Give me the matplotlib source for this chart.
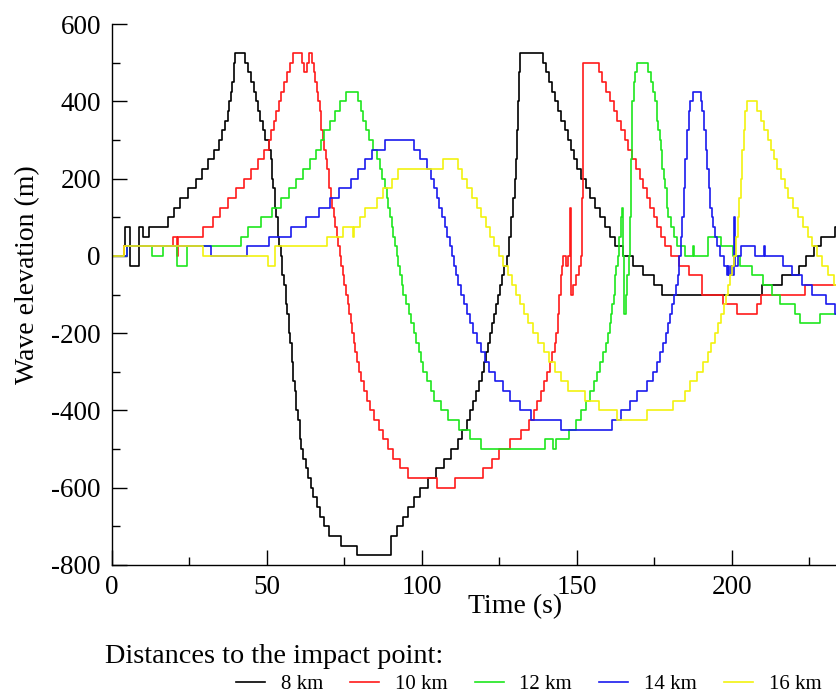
import matplotlib
matplotlib.use("Agg")
import matplotlib.pyplot as plt
from matplotlib.ticker import MultipleLocator

plt.rcParams['font.family'] = ['Liberation Serif', 'DejaVu Serif']
plt.rcParams['axes.unicode_minus'] = False

# ---------------- data (time in s, wave elevation in m; step series) ----------------
labels = ["8 km", "10 km", "12 km", "14 km", "16 km"]

t_8km = [0, 3.8, 4.2, 5.8, 8.7, 10, 12, 18, 20, 22, 24.5, 27, 29, 31, 33, 34.5, 35.5, 36.5, 37.3, 37.9,
         38.4, 38.8, 39.2, 39.5, 39.8, 43, 44, 45, 45.8, 46.5, 47.2, 47.9, 48.6, 49.3, 50.8, 51.2, 51.6,
         52, 52.5, 53, 53.5, 54, 54.5, 55, 55.5, 56, 56.5, 57, 57.5, 58, 58.5, 59, 59.5, 60, 60.5, 61,
         61.7, 62.5, 63.3, 64.2, 65, 66, 67.2, 68.5, 70, 74, 78.9, 90, 92, 94, 95.5, 97.5, 99.5, 102,
         104.5, 107, 109.5, 111.5, 113, 114.5, 115.5, 116.5, 117.5, 118.5, 119.3, 120, 120.7, 121.4, 122,
         122.7, 123.3, 124, 124.6, 125.2, 125.8, 126.6, 127.5, 128.2, 128.8, 129.4, 129.9, 130.3, 130.7,
         131, 131.3, 131.6, 139, 140, 141, 142, 143, 144, 145, 146, 147, 148, 149, 150, 151.3, 152.8,
         154.3, 155.8, 157.4, 159, 160.7, 162.3, 164.9, 168.2, 171.4, 174.8, 177.6, 209.8, 216, 221.5,
         224, 226.5, 228.7, 233.3, 235]
v_8km = [0, 25, 75, -25, 75, 50, 75, 100, 125, 150, 175, 200, 225, 250, 275, 300, 325, 350, 375, 400,
         425, 450, 475, 500, 525, 500, 475, 450, 425, 400, 375, 350, 325, 300, 275, 250, 200,
         175, 125, 100, 50, 25, 0, -50, -75, -125, -150, -200, -225, -275, -325, -350, -400, -425, -475, -500,
         -525, -550, -575, -600, -625, -650, -675, -700, -725, -750, -775, -725, -700, -675, -650, -625, -600, -575,
         -550, -525, -500, -475, -450, -425, -400, -375, -350, -325, -300, -275, -250, -225, -200,
         -175, -150, -125, -100, -75, -50, -25, 0, 50, 100, 150, 200, 250, 325,
         400, 475, 525, 500, 475, 450, 425, 400, 375, 350, 325, 300, 275, 250, 225, 200, 175,
         150, 125, 100, 75, 50, 25, 0, -25, -50, -75, -100, -75, -50, -25,
         0, 25, 50, 75, 75]

t_10km = [0, 4, 19.8, 20.9, 21.4, 29.5, 32.5, 35, 37.5, 40, 42.5, 45, 47, 49, 50.5, 51.3, 52.2, 53, 53.8,
          54.6, 55.4, 56.3, 57.3, 58.4, 61.3, 62, 63, 63.6, 64.6, 65.1, 65.6, 66.1, 66.6, 67.1, 67.5, 68,
          68.5, 69, 69.5, 70, 70.5, 71, 71.5, 72, 72.5, 73, 73.5, 74, 74.5, 75, 75.5, 76, 76.5, 77, 77.5,
          78, 78.5, 79.1, 79.7, 80.4, 81.2, 82.2, 83.3, 84.6, 86, 87.5, 89, 90.5, 93, 95.5, 104.7, 110.6,
          119.8, 122.5, 125, 128.5, 132, 134.5, 136, 137.2, 138.3, 139.3, 140.3, 141.2, 142, 142.8, 143.4,
          143.9, 144.3, 144.7, 145.1, 145.6, 146.6, 147.2, 147.6, 148.1, 148.7, 149.7, 150.7, 151.2, 151.5,
          151.8, 152, 157, 158.2, 159.4, 160.6, 161.8, 163, 164.2, 165.4, 166.6, 167.8, 169, 170.2, 171.4,
          172.6, 173.7, 174.8, 175.9, 177, 178.5, 180.5, 183, 186, 190.2, 197.2, 201.5, 208, 209.5, 223.5, 235]
v_10km = [0, 25, 50, 0, 50, 75, 100, 125, 150, 175, 200, 225, 250, 275, 300, 325, 350, 375, 400,
          425, 450, 475, 500, 525, 500, 475, 500, 525, 500, 475, 450, 425, 400, 375, 325, 300,
          275, 250, 225, 175, 150, 125, 100, 75, 50, 25, 0, -25, -50, -75, -100, -125, -150, -175, -200,
          -225, -250, -275, -300, -325, -350, -375, -400, -425, -450, -475, -500, -525, -550, -575, -600, -575,
          -550, -525, -500, -475, -450, -425, -400, -375, -350, -325, -300, -275, -250, -225, -200,
          -150, -100, -50, -25, 0, -25, 0, 125, -100, -75, -50, -25, 0, 150,
          350, 500, 475, 450, 425, 400, 375, 350, 325, 300, 275, 250, 225, 200, 175,
          150, 125, 100, 75, 50, 25, 0, -25, -50, -100, -125, -150, -125, -100, -75, -75]

t_12km = [0, 5, 12.8, 16.6, 20.9, 24.1, 41.5, 44, 48, 51.5, 54.5, 57, 59.3, 61.5, 63.8, 65.8, 67.4, 68.5,
          70.3, 72, 73.5, 75.4, 79.5, 80.3, 81.1, 82, 83, 84.2, 85.5, 86.4, 87.2, 88, 88.6, 89.2, 89.8,
          90.3, 90.8, 91.3, 91.8, 92.3, 92.8, 93.4, 94, 94.9, 95.8, 96.6, 97.4, 98.1, 98.9, 99.6, 100.4,
          101.5, 102.8, 104, 106, 108.5, 112, 115.5, 118.9, 139.6, 142.4, 143.4, 147.5, 149.6, 151.4, 152.8,
          154.2, 155.5, 156.6, 157.6, 158.5, 159.3, 160, 160.6, 161, 161.4, 161.8, 162.2, 162.6, 163.2,
          163.7, 164.2, 164.6, 164.9, 165.2, 165.8, 166.3, 166.7, 167.1, 167.4, 167.7, 168.3, 168.8, 169.3,
          173, 173.8, 174.5, 175.2, 175.7, 176.2, 176.7, 177.2, 177.6, 178, 178.5, 179, 179.5, 180.5, 181.3,
          182.2, 184.8, 187.6, 187.9, 192.3, 196.6, 200.4, 202.6, 206.4, 210.1, 212.8, 215.5, 220.3, 222,
          228.4, 235]
v_12km = [0, 25, 0, 25, -25, 25, 50, 75, 100, 125, 150, 175, 200, 225, 250, 275, 300, 325,
          350, 375, 400, 425, 400, 375, 350, 325, 300, 275, 250, 225, 200, 175, 150, 125, 100,
          75, 50, 25, 0, -25, -50, -75, -100, -125, -150, -175, -200, -225, -250, -275, -300,
          -325, -350, -375, -400, -425, -450, -475, -500, -475, -500, -475, -450, -425, -400, -375,
          -350, -325, -300, -275, -250, -225, -200, -175, -150, -125, -100, -50, -25, 0,
          50, 100, 125, 0, -150, -100, -50, 0, 100, 250, 400, 450, 475, 500,
          475, 450, 425, 400, 350, 325, 300, 275, 225, 200, 175, 125, 100, 75, 50,
          25, 0, 25, 0, 50, 25, 0, -25, -50, -75, -100, -125, -150, -175,
          -150, -150]

t_14km = [0, 5, 32, 43.4, 50.5, 57.7, 62.5, 66.8, 70.3, 73.2, 77, 79.3, 81.6, 83.8, 88, 97.4, 99.5, 101.5,
          102.8, 103.8, 104.7, 105.6, 106.5, 107.4, 108.2, 109, 109.8, 110.4, 110.9, 111.6, 112.6, 113.5,
          114.4, 115.4, 116.5, 117.8, 119, 120.3, 121.5, 123.5, 126, 128.5, 131.5, 135.2, 145, 161.2, 164.2,
          167.1, 169.5, 172.5, 174.6, 175.7, 176.8, 177.8, 178.6, 179.3, 180, 180.6, 181.2, 182, 182.5, 183,
          183.5, 184, 184.5, 185, 185.5, 186, 186.6, 187.4, 189.9, 190.5, 191, 191.5, 192, 192.5, 193,
          193.5, 194, 194.6, 195.3, 196.2, 197.5, 198.3, 198.8, 199.1, 199.6, 199.9, 200.7, 201.1, 202, 203,
          207.4, 210.4, 210.7, 216.5, 219.4, 222.5, 225.7, 230.5, 233.3, 235]
v_14km = [0, 25, 0, 25, 50, 75, 100, 125, 150, 175, 200, 225, 250, 275, 300, 275, 250, 225,
          200, 175, 150, 125, 100, 75, 50, 25, 0, -25, -50, -75, -100, -125,
          -150, -175, -200, -225, -250, -275, -300, -325, -350, -375, -400, -425, -450, -425, -400,
          -375, -350, -325, -300, -275, -250, -225, -200, -175, -150, -125, -100, -75, -50, 0,
          50, 100, 175, 250, 325, 375, 400, 425, 400, 375, 325, 275, 225, 175, 125,
          100, 75, 50, 25, 0, -25, -50, -25, -50, -25, -50, 100, -25, 0, 25,
          0, 25, 0, -25, -50, -75, -100, -125, -150, -150]

t_16km = [0, 4, 29.5, 50.4, 52.6, 69.5, 74.6, 77.7, 78, 80, 81.6, 85.4, 87.5, 90.2, 92.4, 106.9, 111.7,
          113, 114.4, 116, 117.6, 119.2, 120.6, 122, 123.3, 124.7, 126.1, 127.6, 129, 130.4, 131.6, 132.8,
          134.2, 135.8, 137.5, 139.3, 141, 142.8, 145, 147.2, 152.6, 157.2, 162.8, 172.5, 181.1, 184.8,
          186.6, 188.6, 190.6, 192.2, 193.4, 194.5, 195.5, 196.5, 197.3, 198.1, 198.8, 199.4, 200, 200.6,
          201.2, 201.8, 202.3, 202.8, 203.3, 203.8, 204.3, 205, 208, 209.3, 210.5, 211.5, 212.5, 213.5,
          214.7, 215.8, 217, 218.2, 219.8, 221.3, 222.8, 224.4, 225.9, 227.5, 229.2, 231, 233, 235]
v_16km = [0, 25, 0, -25, 25, 50, 75, 50, 75, 100, 125, 150, 175, 200, 225, 250, 225,
          200, 175, 150, 125, 100, 75, 50, 25, 0, -25, -50, -75, -100, -125, -150,
          -175, -200, -225, -250, -275, -300, -325, -350, -375, -400, -425, -400, -375, -350,
          -325, -300, -275, -250, -225, -200, -175, -150, -125, -100, -75, -50, -25, 0,
          50, 100, 150, 200, 275, 325, 375, 400, 375, 350, 325, 300, 275, 250,
          225, 200, 175, 150, 125, 100, 75, 50, 25, 0, -25, -50, -75, -75]

series_t = [t_8km, t_10km, t_12km, t_14km, t_16km]
series_v = [v_8km, v_10km, v_12km, v_14km, v_16km]
colors = ["#000000", "#ff1a1a", "#1ee61e", "#1a1aee", "#f2f20f"]

x_major = [0, 50, 100, 150, 200]
y_major = [-800, -600, -400, -200, 0, 200, 400, 600]

# ---------------- figure ----------------
W, H = 837, 698
fig = plt.figure(figsize=(W / 100, H / 100), dpi=100)
ax = fig.add_axes([112 / W, (H - 565) / H, 1 - 112 / W, (565 - 24) / H])

lines = []
for t, v, c in zip(series_t, series_v, colors):
    ln, = ax.plot(t, v, drawstyle="steps-post", color=c, lw=1.2)
    lines.append(ln)

ax.set_xlim(0, 233.9)
ax.set_ylim(-800, 600)
ax.set_xticks(x_major)
ax.set_yticks(y_major)
ax.xaxis.set_minor_locator(MultipleLocator(25))
ax.yaxis.set_minor_locator(MultipleLocator(100))
ax.spines["top"].set_visible(False)
ax.spines["right"].set_visible(False)
for s in ("left", "bottom"):
    ax.spines[s].set_linewidth(1.0)
ax.tick_params(which="major", direction="in", length=11, width=1.0, labelsize=19.5)
ax.tick_params(which="minor", direction="in", length=5.5, width=1.0)
ax.tick_params(axis="y", which="major", pad=8)
ax.tick_params(axis="x", which="major", pad=7)

ax.set_xlabel("Time (s)", fontsize=20)
ax.xaxis.set_label_coords(0.556, -0.054)
ax.set_ylabel("Wave elevation (m)", fontsize=20)
ax.yaxis.set_label_coords(-0.099, 0.536)

fig.text(105 / W, (H - 663) / H, "Distances to the impact point:", fontsize=20.3, va="baseline", ha="left")
fig.legend(lines, labels, ncol=5, loc="center left", bbox_to_anchor=(236 / W, (H - 684) / H),
           frameon=False, fontsize=15, handlelength=1.4, handletextpad=0.75, columnspacing=1.3,
           borderpad=0, borderaxespad=0)

fig.savefig("out.png", dpi=100)
